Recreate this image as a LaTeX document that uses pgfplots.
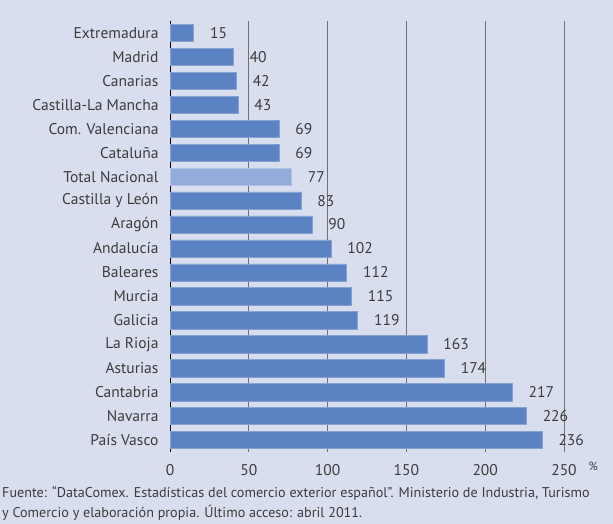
\documentclass[border=0pt]{standalone}
\usepackage{fontspec}
\setmainfont{PT Sans}
\usepackage{pgfplots}
\pgfplotsset{compat=1.18}
\definecolor{bg}{HTML}{D9DEEF}
\definecolor{barc}{HTML}{5B82C3}
\definecolor{barl}{HTML}{94ACDB}
\definecolor{txt}{HTML}{3C3C3C}
\definecolor{gridc}{HTML}{707070}
\begin{document}
\begin{tikzpicture}[x=1bp,y=1bp]
\fill[bg] (0,0) rectangle (613,524);
\begin{axis}[at={(170bp,72bp)}, anchor=south west, scale only axis,
 width=394bp, height=431bp,
 xmin=0, xmax=250, ymin=-0.5, ymax=17.5, y dir=reverse,
 xbar, bar shift=0pt, bar width=0.72,
 ytick={0,...,17},
 yticklabels={Extremadura,Madrid,Canarias,Castilla-La Mancha,Com. Valenciana,Cataluña,Total Nacional,Castilla y León,Aragón,Andalucía,Baleares,Murcia,Galicia,La Rioja,Asturias,Cantabria,Navarra,País Vasco},
 xtick={0,50,...,250},
 xmajorgrids, grid style={gridc, line width=0.7pt},
 axis x line*=bottom, axis y line*=left,
 x axis line style={draw=none},
 y axis line style={-, black, line width=0.8pt},
 major tick length=0pt,
 tick label style={font=\fontsize{15.6}{17}\selectfont, text=txt},
 yticklabel style={xshift=-8bp},
 xticklabel style={yshift=-9bp},
 /pgf/number format/assume math mode=true,
 nodes near coords,
 nodes near coords style={anchor=west, xshift=13bp, font=\fontsize{15.6}{17}\selectfont, text=txt},
 clip=false,
]
\addplot[fill=barc, draw=barc!75!white, line width=0.5pt] coordinates {
(15,0) (40,1) (42,2) (43,3) (69,4) (69,5) (83,7) (90,8) (102,9) (112,10) (115,11) (119,12) (163,13) (174,14) (217,15) (226,16) (236,17)};
\addplot[fill=barl, draw=barl!75!white, line width=0.5pt] coordinates {(77,6)};
\node[anchor=west, font=\fontsize{12}{14}\selectfont, text=txt] at (axis cs:250,17.5) [xshift=21bp, yshift=-14bp] {\%};
\end{axis}
\node[anchor=north west, align=left, font=\fontsize{14.2}{20}\selectfont, text=txt, inner sep=0pt] at (2,38) {Fuente: “DataComex. Estadísticas del comercio exterior español”. Ministerio de Industria, Turismo\\y Comercio y elaboración propia. Último acceso: abril 2011.};
\end{tikzpicture}
\end{document}
